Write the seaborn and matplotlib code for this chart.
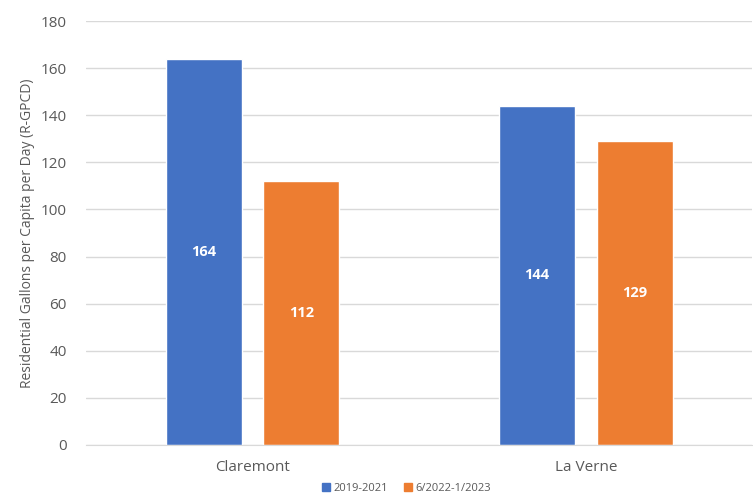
import matplotlib
matplotlib.use("Agg")
import matplotlib.pyplot as plt
import seaborn as sns
import pandas as pd

cities = ["Claremont", "La Verne"]
periods = ["2019-2021", "6/2022-1/2023"]
values_2019_2021 = [164, 144]
values_2022_2023 = [112, 129]
yticks = [0, 20, 40, 60, 80, 100, 120, 140, 160, 180]
colors = ["#4472C4", "#ED7D31"]

df = pd.DataFrame({
    "city": cities * 2,
    "period": [periods[0]] * 2 + [periods[1]] * 2,
    "value": values_2019_2021 + values_2022_2023,
})

sns.set_style("white")
plt.rcParams["font.family"] = ["Open Sans", "DejaVu Sans"]

fig = plt.figure(figsize=(7.53, 5.01), dpi=100)
ax = fig.add_axes([0.1142, 0.112, 0.885, 0.846])

sns.barplot(data=df, x="city", y="value", hue="period", palette=colors,
            width=0.585, gap=0.22, ax=ax, legend=False, saturation=1)

ax.set_ylim(0, 180)
ax.set_yticks(yticks)
ax.yaxis.grid(True, color="#D9D9D9", linewidth=1)
ax.set_axisbelow(True)
for s in ["top", "right", "left"]:
    ax.spines[s].set_visible(False)
ax.spines["bottom"].set_color("#D9D9D9")
ax.tick_params(axis="both", length=0, colors="#595959", labelsize=11)
ax.tick_params(axis="x", pad=11)
ax.tick_params(axis="y", pad=14)
ax.set_xlabel("")
ax.set_ylabel("Residential Gallons per Capita per Day (R-GPCD)", color="#595959", fontsize=10)

for cont in ax.containers:
    for bar in cont:
        h = bar.get_height()
        ax.text(bar.get_x() + bar.get_width() / 2, h / 2, f"{int(round(h))}",
                ha="center", va="center", color="white", fontweight="bold", fontsize=10.5)

from matplotlib.patches import Patch
handles = [Patch(facecolor=c, edgecolor=c) for c in colors]
fig.legend(handles, periods, loc="lower center", bbox_to_anchor=(0.54, -0.005), ncol=2,
           frameon=False, fontsize=8, handlelength=0.7, handleheight=0.7,
           handletextpad=0.3, columnspacing=1.5, labelcolor="#595959")

fig.savefig("out.png", dpi=100)
